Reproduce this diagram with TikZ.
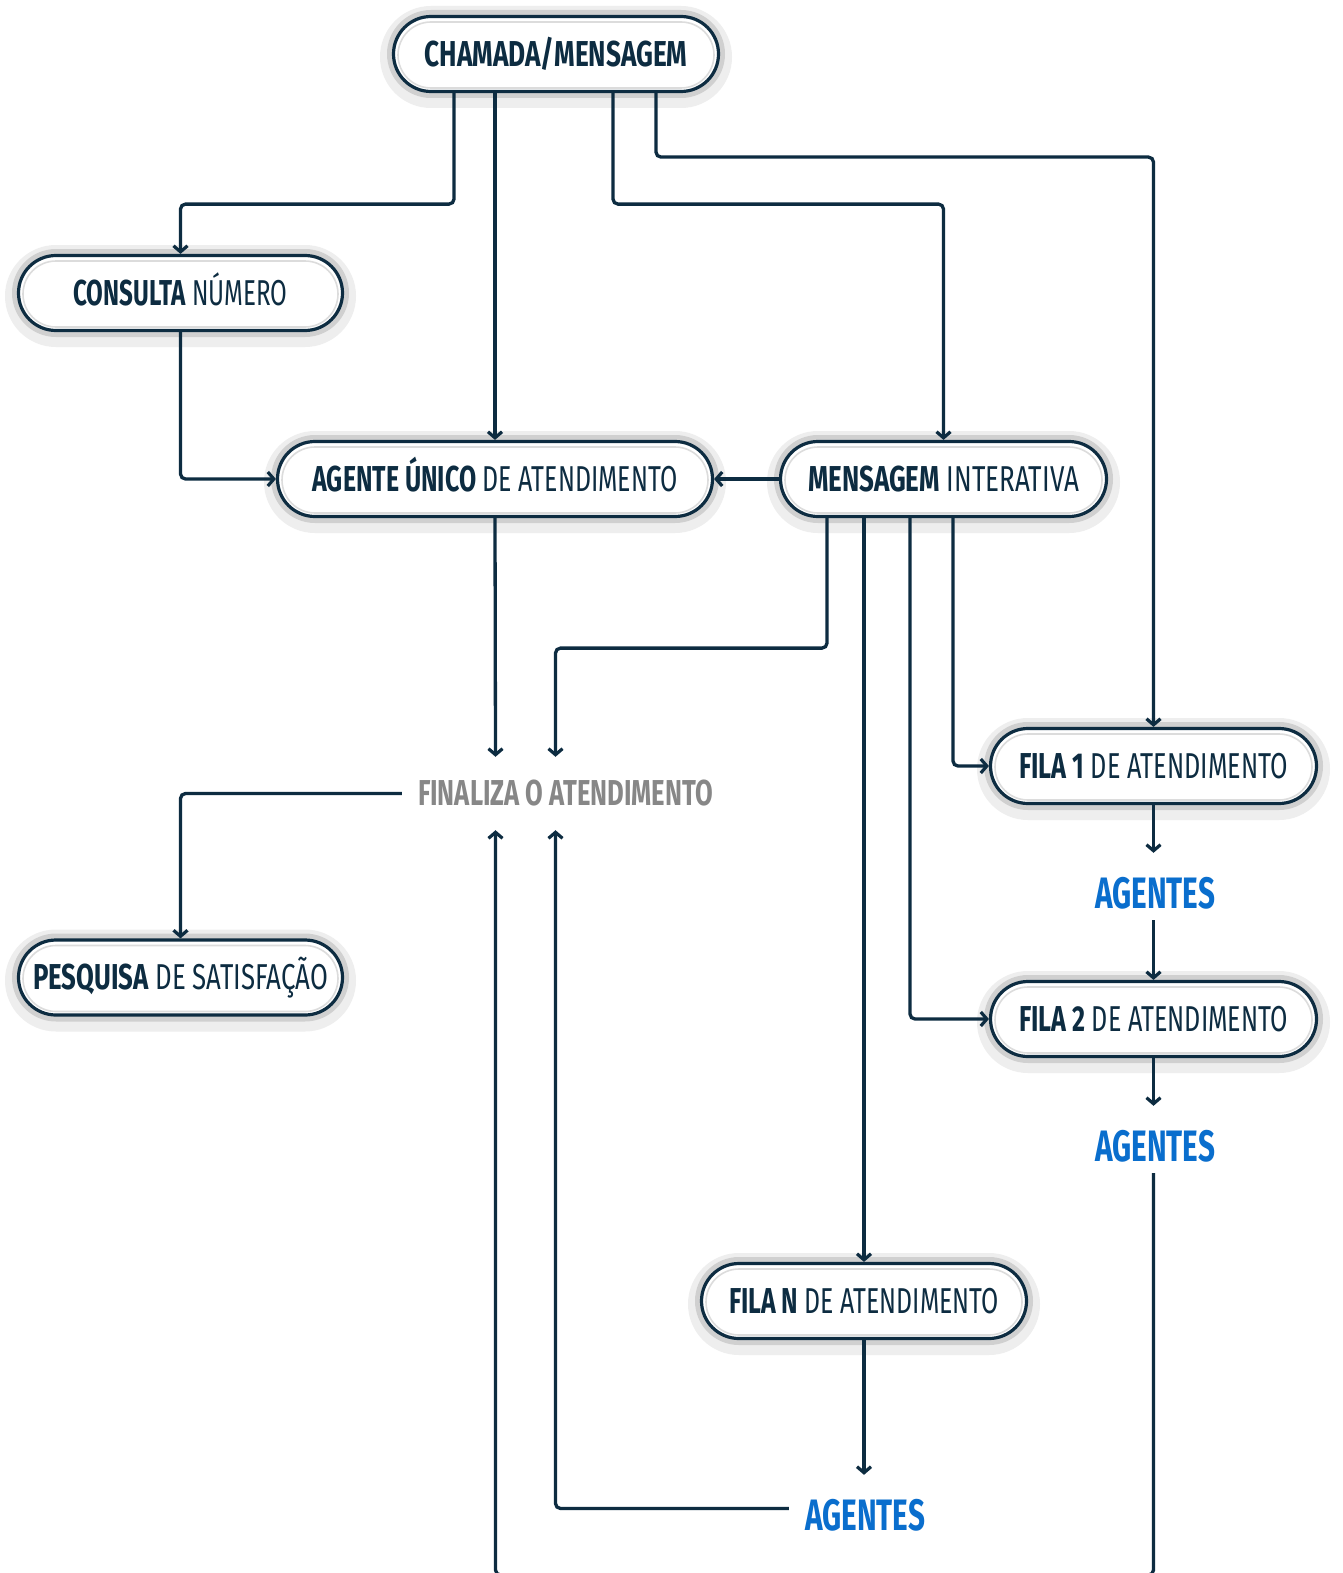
\documentclass[tikz,border=0pt]{standalone}
\usepackage{fontspec}
\setmainfont{Fira Sans}
\usepackage{graphicx}
\usetikzlibrary{arrows.meta}
\definecolor{navy}{HTML}{0D2C41}
\definecolor{fingray}{HTML}{878787}
\definecolor{agblue}{HTML}{0A6ECD}
\definecolor{haloc}{HTML}{EEEEEE}
\definecolor{ringc}{HTML}{D0D0D0}
\definecolor{innerc}{HTML}{DCDCDC}
\newcommand\tw[2]{\resizebox{#1}{\height}{#2}}
\newcommand\pillbox[4]{%
  \node[halo, minimum width=#3pt+24pt, yshift=-3pt] (#1-h) at (#2) {};
  \node[ring, minimum width=#3pt+10pt] (#1-r) at (#2) {};
  \node[pill, minimum width=#3pt-3pt] (#1) at (#2) {#4};
  \node[innerring, minimum width=#3pt-12pt, yshift=-1pt] (#1-i) at (#2) {};
}
\tikzset{
  halo/.style={rectangle, rounded corners=51pt, fill=haloc, draw=none, minimum height=102pt, inner sep=0pt},
  ring/.style={rectangle, rounded corners=44pt, fill=ringc, draw=none, minimum height=88pt, inner sep=0pt},
  pill/.style={rectangle, rounded corners=37.5pt, fill=white, draw=navy, line width=3.2pt, minimum height=75pt, inner sep=0pt,
    text height=24.8pt, text depth=0pt, text=navy, font=\fontsize{36}{40}\selectfont},
  innerring/.style={rectangle, rounded corners=33pt, draw=innerc, line width=1.6pt, minimum height=66pt, inner sep=0pt},
  fintext/.style={anchor=base, inner xsep=16pt, inner ysep=0pt, text height=48pt, text depth=25pt,
    text=fingray, font=\fontsize{36}{40}\selectfont\bfseries},
  agtext/.style={anchor=base, inner xsep=16pt, inner ysep=0pt, text height=55pt, text depth=12pt,
    text=agblue, font=\fontsize{44}{48}\selectfont\bfseries},
  arr/.style={draw=navy, line width=3.3pt, rounded corners=5pt,
    -{Straight Barb[length=6pt,width=14pt,line width=3.2pt]}},
  ln/.style={draw=navy, line width=3.3pt, rounded corners=5pt}
}
\begin{document}
\begin{tikzpicture}[x=1pt,y=-1pt]
\fill[white] (0,0) rectangle (1342,1573);
\useasboundingbox (0,0) rectangle (1342,1573);

\pillbox{cham}{556,54}{328}{\tw{263pt}{\bfseries CHAMADA/MENSAGEM}}
\pillbox{cons}{180.5,293}{327}{\tw{214pt}{\textbf{CONSULTA} NÚMERO}}
\pillbox{agu}{495,479}{438}{\tw{365pt}{\textbf{AGENTE ÚNICO} DE ATENDIMENTO}}
\pillbox{mi}{943.5,479}{329}{\tw{271pt}{\textbf{MENSAGEM} INTERATIVA}}
\pillbox{f1}{1153.5,766}{329}{\tw{269pt}{\textbf{FILA 1} DE ATENDIMENTO}}
\pillbox{f2}{1153.5,1019}{329}{\tw{269pt}{\textbf{FILA 2} DE ATENDIMENTO}}
\pillbox{fn}{864,1301}{328}{\tw{270pt}{\textbf{FILA N} DE ATENDIMENTO}}
\pillbox{pes}{180.5,977.5}{327}{\tw{295pt}{\textbf{PESQUISA} DE SATISFAÇÃO}}

\node[fintext] (fin) at (565.5,805) {\tw{295pt}{FINALIZA O ATENDIMENTO}};
\node[agtext] (ag1) at (1155,908) {\tw{120pt}{AGENTES}};
\node[agtext] (ag2) at (1155,1161) {\tw{120pt}{AGENTES}};
\node[agtext] (agn) at (865,1530) {\tw{120pt}{AGENTES}};
\coordinate (bot) at (0,1575);

% from CHAMADA/MENSAGEM
\draw[arr] ([xshift=-102pt]cham.south) -- ++(0,111) -| (cons.north);
\draw[arr] (cham.south -| agu.north) -- (agu.north);
\draw[arr] ([xshift=57pt]cham.south) -- ++(0,111) -| (mi.north);
\draw[arr] ([xshift=100pt]cham.south) -- ++(0,64) -| (f1.north);
% consulta -> agente unico
\draw[arr] (cons.south) |- (agu.west);
% mensagem interativa
\draw[arr] (mi.west) -- (agu.east);
\draw[arr] ([xshift=-116.5pt]mi.south) -- ++(0,130) -| ([xshift=-10pt]fin.north);
\draw[arr] (mi.south -| fn.north) -- (fn.north);
\draw[arr] ([xshift=-33.5pt]mi.south) |- (f2.west);
\draw[arr] ([xshift=9.5pt]mi.south) |- (f1.west);
% agente unico -> finaliza
\draw[arr] (agu.south) -- ([xshift=-70pt]fin.north);
% filas
\draw[arr] (f1.south) -- (f1.south |- ag1.north);
\draw[arr] (ag1.south -| f2.north) -- (f2.north);
\draw[arr] (f2.south) -- (f2.south |- ag2.north);
\draw[arr] (fn.south) -- (fn.south |- agn.north);
% agentes -> finaliza
\draw[arr] (ag2.south -| f2.south) -- (f2.south |- bot) -| ([xshift=-70pt]fin.south);
\draw[arr] (agn.west) -| ([xshift=-10pt]fin.south);
% finaliza -> pesquisa
\draw[arr] (fin.west) -| (pes.north);
\end{tikzpicture}
\end{document}
